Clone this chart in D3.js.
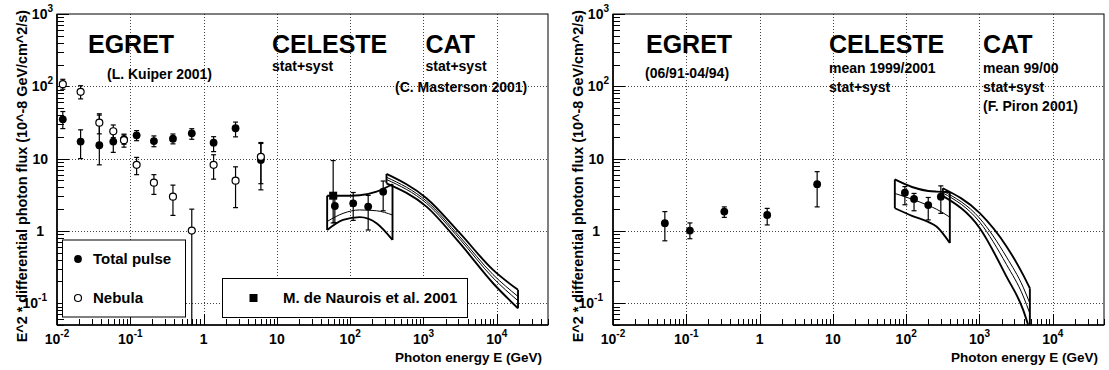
<!DOCTYPE html>
<html>
<head>
<meta charset="utf-8">
<script src="https://cdn.jsdelivr.net/npm/d3@7"></script>
<style>
  body { margin: 0; background: #fff; }
  text { font-family: "Liberation Sans", Arial, Helvetica, sans-serif; font-weight: bold; fill: #000; }
</style>
</head>
<body>
<script>
// Crab pulsar / nebula spectra, EGRET + CELESTE + CAT (two panels)

// ---- data: left panel ----
const kuiperE     = [0.012, 0.021, 0.0378, 0.0586, 0.082, 0.122, 0.21, 0.382, 0.69, 1.37, 2.73, 6.05];
const pulseFlux   = [35, 17.2, 15.3, 17.2, 18.5, 21, 17.5, 18.9, 22.4, 16.6, 26.3, 9.6];
const pulseHi     = [44.8, 25, 40, 24.4, 21.8, 24.4, 20.6, 21.9, 25.9, 20.1, 32, 16.2];
const pulseLo     = [26, 10, 8.2, 12.2, 15.8, 17.7, 14.6, 16.0, 18.5, 12.5, 20, 3.7];
const nebulaFlux  = [107, 84, 31.4, 23.9, 18, 8.2, 4.65, 2.98, 1.01, 8.2, 4.95, 10.6];
const nebulaHi    = [125, 102, 41.7, 29.2, 21.2, 10.4, 6, 4.3, 2.0, 11.3, 7.7, 16.7];
const nebulaLo    = [91, 67, 22, 19.5, 14.4, 6, 3.2, 1.64, 0.01, 5.2, 2.1, 4.5];

const naurE = [58.6], naurFlux = [3.07], naurHi = [9.4], naurLo = [1.29];

const celesteE1    = [61.8, 110, 176, 282];
const celesteFlux1 = [2.21, 2.41, 2.17, 3.49];
const celesteHi1   = [2.9, 3.4, 3.1, 4.9];
const celesteLo1   = [1.3, 1.4, 1.03, 1.9];

// CELESTE band (left)
const celBandE1     = [48.5, 80, 135, 229, 378];
const celBandUp1    = [3.07, 3.07, 3.12, 3.5, 4.42];
const celBandMid1   = [1.35, 1.75, 1.95, 1.9, 1.66];
const celBandLow1   = [1.03, 1.42, 1.55, 1.28, 0.75];

// CAT band (left)
const catBandE1    = [313, 1100, 3133, 8900, 19500];
const catBandUp1   = [6.14, 2.83, 0.93, 0.289, 0.153];
const catBandMidA1 = [5.53, 2.58, 0.83, 0.249, 0.124];
const catBandMidB1 = [5.14, 2.41, 0.77, 0.224, 0.108];
const catBandLow1  = [4.56, 2.17, 0.676, 0.189, 0.085];

// ---- data: right panel ----
const egretE2    = [0.051, 0.112, 0.33, 1.27, 6.1];
const egretFlux2 = [1.28, 1.01, 1.85, 1.66, 4.43];
const egretHi2   = [1.85, 1.29, 2.15, 2.05, 6.6];
const egretLo2   = [0.73, 0.78, 1.54, 1.21, 2.15];

const celesteE2    = [96, 128, 200, 297];
const celesteFlux2 = [3.38, 2.77, 2.28, 2.98];
const celesteHi2   = [4.1, 3.3, 2.9, 4.2];
const celesteLo2   = [2.3, 1.9, 1.42, 1.75];

const celBandE2   = [70, 120, 200, 259, 394];
const celBandUp2  = [5.15, 4.05, 3.57, 3.5, 3.46];
const celBandMid2 = [3.3, 2.75, 2.25, 2.0, 1.55];
const celBandLow2 = [2.06, 1.62, 1.33, 1.15, 0.68];

const catBandE2    = [316, 1010, 2340, 3945, 4870];
const catBandUp2   = [3.89, 1.76, 0.61, 0.247, 0.161];
const catBandMidA2 = [3.57, 1.49, 0.435, 0.167, 0.0996];
const catBandMidB2 = [3.36, 1.32, 0.342, 0.126, 0.072];
const catBandLow2  = [3.05, 1.09, 0.233, 0.081, 0.042];

// ---- axes ----
const xDomain = [0.01, 5e4];
const yDomain = [0.05, 1000];
const xMajor = [0.01, 0.1, 1, 10, 100, 1000, 10000];
const xLabels = [["10", "-2"], ["10", "-1"], ["1", ""], ["10", ""], ["10", "2"], ["10", "3"], ["10", "4"]];
const yMajor = [0.1, 1, 10, 100, 1000];
const yLabels = [["10", "-1"], ["1", ""], ["10", ""], ["10", "2"], ["10", "3"]];
const xTitle = "Photon energy E (GeV)";
const yTitle = "E^2 * differential photon flux (10^-8 GeV/cm^2/s)";

const width = 1109;
const height = 370;
const plotTop = 14;
const plotBottom = 325;

const svg = d3.select('body').append('svg')
  .attr('width', width)
  .attr('height', height);

function isDecade(v) {
  return Math.abs(Math.log10(v) - Math.round(Math.log10(v))) < 1e-6;
}

function drawPanel(p, idx) {
  const x = d3.scaleLog().domain(xDomain).range([p.left, p.right]);
  const y = d3.scaleLog().domain(yDomain).range([plotBottom, plotTop]);
  const g = svg.append('g');

  const clipId = 'clip' + idx;
  svg.append('clipPath').attr('id', clipId)
    .append('rect')
    .attr('x', p.left).attr('y', plotTop)
    .attr('width', p.right - p.left).attr('height', plotBottom - plotTop);

  // grille pointillee
  const grid = g.append('g')
    .attr('stroke', '#444')
    .attr('stroke-width', 1)
    .attr('stroke-dasharray', '1,2');
  xMajor.filter(v => v > xDomain[0]).forEach(v => {
    grid.append('line')
      .attr('x1', Math.round(x(v)) + 0.5).attr('x2', Math.round(x(v)) + 0.5)
      .attr('y1', plotTop).attr('y2', plotBottom);
  });
  yMajor.filter(v => v < yDomain[1]).forEach(v => {
    grid.append('line')
      .attr('x1', p.left).attr('x2', p.right)
      .attr('y1', Math.round(y(v)) + 0.5).attr('y2', Math.round(y(v)) + 0.5);
  });

  // cadre
  g.append('rect')
    .attr('x', p.left).attr('y', plotTop)
    .attr('width', p.right - p.left).attr('height', plotBottom - plotTop)
    .attr('fill', 'none').attr('stroke', '#000').attr('stroke-width', 1);
  g.append('line').attr('x1', p.left).attr('x2', p.left)
    .attr('y1', plotTop).attr('y2', plotBottom).attr('stroke', '#000').attr('stroke-width', 1.6);
  g.append('line').attr('x1', p.left).attr('x2', p.right)
    .attr('y1', plotBottom).attr('y2', plotBottom).attr('stroke', '#000').attr('stroke-width', 1.6);

  // graduations
  const ticks = g.append('g').attr('stroke', '#000').attr('stroke-width', 1);
  x.ticks().filter(v => v >= xDomain[0] && v <= xDomain[1]).forEach(v => {
    const len = isDecade(v) ? 11 : 6;
    const px = Math.round(x(v)) + 0.5;
    ticks.append('line').attr('x1', px).attr('x2', px)
      .attr('y1', plotBottom).attr('y2', plotBottom - len);
  });
  y.ticks().filter(v => v >= yDomain[0] && v <= yDomain[1]).forEach(v => {
    const len = isDecade(v) ? 12 : 7;
    const py = Math.round(y(v)) + 0.5;
    ticks.append('line').attr('x1', p.left).attr('x2', p.left + len)
      .attr('y1', py).attr('y2', py);
  });

  // etiquettes
  xMajor.forEach((v, i) => {
    const t = g.append('text')
      .attr('x', x(v)).attr('y', plotBottom + 19)
      .attr('text-anchor', 'middle')
      .style('font-size', '14px');
    t.append('tspan').text(xLabels[i][0]);
    if (xLabels[i][1]) {
      t.append('tspan').attr('dy', -7).style('font-size', '10px').text(xLabels[i][1]);
    }
  });
  yMajor.forEach((v, i) => {
    const hasExp = !!yLabels[i][1];
    let off = hasExp ? 4 : (yLabels[i][0] === '1' ? 13 : 9);
    if (hasExp && yLabels[i][1][0] === '-') off = 10;
    const t = g.append('text')
      .attr('x', p.left - off).attr('y', y(v) + 5)
      .attr('text-anchor', 'end')
      .style('font-size', '14px');
    t.append('tspan').text(yLabels[i][0]);
    if (hasExp) {
      t.append('tspan').attr('dy', -7).style('font-size', '10px').text(yLabels[i][1]);
    }
  });

  // titres des axes
  g.append('text')
    .attr('x', p.right - 6).attr('y', 362)
    .attr('text-anchor', 'end')
    .style('font-size', '13.5px')
    .text(xTitle);
  g.append('text')
    .attr('transform', `translate(${p.left - 30},10) rotate(-90)`)
    .attr('text-anchor', 'end')
    .style('font-size', '14.4px')
    .text(yTitle);

  // annotations
  p.notes.forEach(n => {
    g.append('text')
      .attr('x', n.x).attr('y', n.y)
      .style('font-size', n.big ? '25px' : '14px')
      .text(n.t);
  });

  // legendes
  p.legends.forEach(L => {
    g.append('rect')
      .attr('x', L.x).attr('y', L.y).attr('width', L.w).attr('height', L.h)
      .attr('fill', '#fff').attr('stroke', '#000').attr('stroke-width', 1);
    L.items.forEach(it => {
      drawMarker(g, it.mx, it.my, it.kind);
      g.append('text').attr('x', it.tx).attr('y', it.my + 5)
        .style('font-size', '15px').text(it.t);
    });
  });

  const plot = g.append('g').attr('clip-path', `url(#${clipId})`);

  // bandes CELESTE / CAT
  const line = d3.line().x(d => x(d[0])).y(d => y(d[1])).curve(d3.curveMonotoneX);
  p.bands.forEach(b => {
    const bg = plot.append('g').attr('fill', 'none').attr('stroke', '#000');
    const mk = arr => b.E.map((e, i) => [e, arr[i]]);
    b.mids.forEach(m => {
      bg.append('path').attr('d', line(mk(m))).attr('stroke-width', 1);
    });
    [b.up, b.low].forEach(m => {
      bg.append('path').attr('d', line(mk(m))).attr('stroke-width', 1.9);
    });
    const e0 = b.E[0], e1 = b.E[b.E.length - 1];
    bg.append('line').attr('x1', x(e0)).attr('x2', x(e0))
      .attr('y1', y(b.up[0])).attr('y2', y(b.low[0])).attr('stroke-width', 1.9);
    bg.append('line').attr('x1', x(e1)).attr('x2', x(e1))
      .attr('y1', y(b.up[b.up.length - 1])).attr('y2', y(b.low[b.low.length - 1])).attr('stroke-width', 1.9);
  });

  // points avec barres d'erreur
  p.series.forEach(s => {
    const eg = plot.append('g').attr('stroke', '#000').attr('stroke-width', 1.2);
    s.E.forEach((e, i) => {
      const px = x(e);
      eg.append('line').attr('x1', px).attr('x2', px)
        .attr('y1', y(s.hi[i])).attr('y2', y(s.lo[i]));
      [s.hi[i], s.lo[i]].forEach(v => {
        eg.append('line').attr('x1', px - 2.5).attr('x2', px + 2.5)
          .attr('y1', y(v)).attr('y2', y(v));
      });
    });
  });
  p.series.forEach(s => {
    s.E.forEach((e, i) => drawMarker(plot, x(e), y(s.flux[i]), s.kind));
  });
}

function drawMarker(g, cx, cy, kind) {
  if (kind === 'square') {
    g.append('rect').attr('x', cx - 4).attr('y', cy - 4)
      .attr('width', 8).attr('height', 8).attr('fill', '#000');
  } else if (kind === 'open') {
    g.append('circle').attr('cx', cx).attr('cy', cy).attr('r', 3.5)
      .attr('fill', '#fff').attr('stroke', '#000').attr('stroke-width', 1.2);
  } else {
    g.append('circle').attr('cx', cx).attr('cy', cy).attr('r', 3.9).attr('fill', '#000');
  }
}

const panels = [
  {
    left: 57, right: 548,
    notes: [
      { t: 'EGRET', x: 88, y: 53, big: true },
      { t: '(L. Kuiper 2001)', x: 107, y: 79 },
      { t: 'CELESTE', x: 272, y: 53, big: true },
      { t: 'stat+syst', x: 272, y: 71 },
      { t: 'CAT', x: 425.5, y: 53, big: true },
      { t: 'stat+syst', x: 425.5, y: 71 },
      { t: '(C. Masterson 2001)', x: 395, y: 92 }
    ],
    legends: [
      { x: 62.5, y: 240, w: 123, h: 77, items: [
        { kind: 'filled', mx: 78, my: 259, tx: 93, t: 'Total pulse' },
        { kind: 'open', mx: 78, my: 298, tx: 93, t: 'Nebula' }
      ] },
      { x: 222.5, y: 278.5, w: 245, h: 39, items: [
        { kind: 'square', mx: 253.5, my: 298, tx: 283, t: 'M. de Naurois et al. 2001' }
      ] }
    ],
    bands: [
      { E: celBandE1, up: celBandUp1, low: celBandLow1, mids: [celBandMid1] },
      { E: catBandE1, up: catBandUp1, low: catBandLow1, mids: [catBandMidA1, catBandMidB1] }
    ],
    series: [
      { E: kuiperE, flux: pulseFlux, hi: pulseHi, lo: pulseLo, kind: 'filled' },
      { E: kuiperE, flux: nebulaFlux, hi: nebulaHi, lo: nebulaLo, kind: 'open' },
      { E: naurE, flux: naurFlux, hi: naurHi, lo: naurLo, kind: 'square' },
      { E: celesteE1, flux: celesteFlux1, hi: celesteHi1, lo: celesteLo1, kind: 'filled' }
    ]
  },
  {
    left: 613, right: 1104,
    notes: [
      { t: 'EGRET', x: 646, y: 53, big: true },
      { t: '(06/91-04/94)', x: 645, y: 78 },
      { t: 'CELESTE', x: 829, y: 53, big: true },
      { t: 'mean 1999/2001', x: 829, y: 73 },
      { t: 'stat+syst', x: 829, y: 92 },
      { t: 'CAT', x: 983, y: 53, big: true },
      { t: 'mean 99/00', x: 983, y: 73 },
      { t: 'stat+syst', x: 983, y: 92 },
      { t: '(F. Piron 2001)', x: 983, y: 111 }
    ],
    legends: [],
    bands: [
      { E: celBandE2, up: celBandUp2, low: celBandLow2, mids: [celBandMid2] },
      { E: catBandE2, up: catBandUp2, low: catBandLow2, mids: [catBandMidA2, catBandMidB2] }
    ],
    series: [
      { E: egretE2, flux: egretFlux2, hi: egretHi2, lo: egretLo2, kind: 'filled' },
      { E: celesteE2, flux: celesteFlux2, hi: celesteHi2, lo: celesteLo2, kind: 'filled' }
    ]
  }
];

panels.forEach(drawPanel);
</script>
</body>
</html>
